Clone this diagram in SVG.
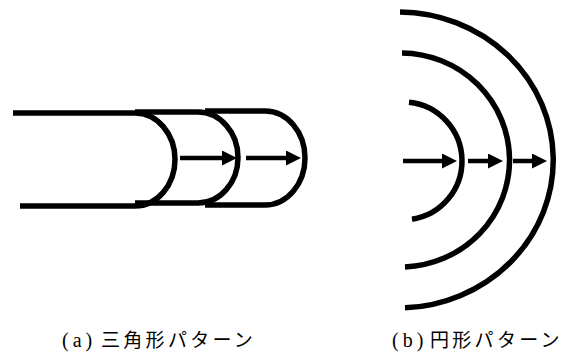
<svg xmlns="http://www.w3.org/2000/svg" width="565" height="356" viewBox="0 0 565 356">
<style>
.wave{fill:none;stroke:#000;stroke-width:5.5;stroke-linecap:butt}
.arr{stroke:#000;stroke-width:4.5;fill:none;marker-end:url(#head)}
.lbl{fill:#000}
.lat{font-family:"Liberation Serif","DejaVu Serif",serif;font-size:20px;letter-spacing:4px}
.jp{font-family:"Noto Sans CJK JP","Noto Sans CJK SC",sans-serif;font-size:19px;letter-spacing:3.3px}
</style>
<defs>
<marker id="head" markerUnits="userSpaceOnUse" markerWidth="15" markerHeight="15" refX="4" refY="7.5" orient="auto">
<path d="M0,0 L15,7.5 L0,15 Z" fill="#000"/>
</marker>
</defs>
<rect width="565" height="356" fill="#fff"/>
<g id="triangle-pattern">
<path class="wave" d="M13,113 H135 A40,46.5 0 0 1 135,206 H20"/>
<path class="wave" d="M135,112 H198 A40,45.5 0 0 1 198,203 H135"/>
<path class="wave" d="M205,111 H265 A40,47 0 0 1 265,205 H205"/>
</g>
<g id="circle-pattern">
<path class="wave" d="M409,102.3 A59,59 0 0 1 412,219.3"/>
<path class="wave" d="M402,53 A109,107 0 0 1 405,266.9"/>
<path class="wave" d="M400,12 A155,148 0 0 1 405,307.85"/>
</g>
<g id="connectors">
<line class="arr" x1="180" y1="158" x2="226" y2="158"/>
<line class="arr" x1="246" y1="158" x2="290" y2="158"/>
<line class="arr" x1="403" y1="161" x2="446" y2="161"/>
<line class="arr" x1="468" y1="161" x2="492" y2="161"/>
<line class="arr" x1="513" y1="161" x2="536" y2="161"/>
</g>
<g id="label-a">
<text class="lbl" x="62" y="347"><tspan class="lat">(a)</tspan><tspan class="jp" x="101">三角形パターン</tspan></text>
</g>
<g id="label-b">
<text class="lbl" x="392" y="347"><tspan class="lat">(b)</tspan><tspan class="jp" x="430">円形パターン</tspan></text>
</g>
</svg>
